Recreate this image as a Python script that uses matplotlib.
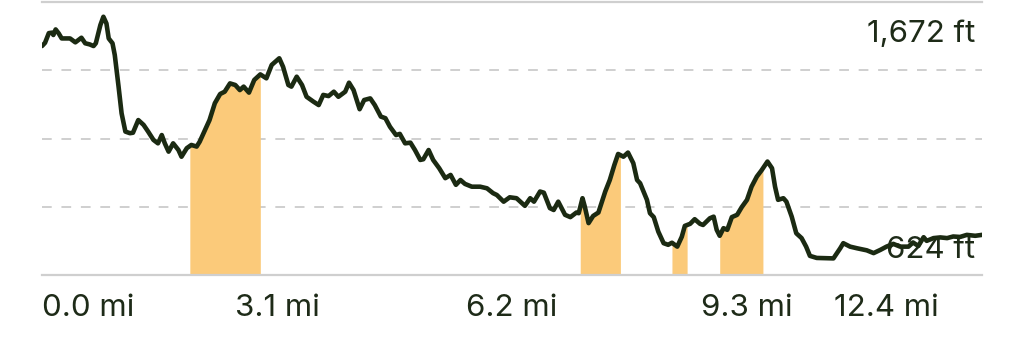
import matplotlib
matplotlib.use("Agg")
import matplotlib.pyplot as plt
import numpy as np

# elevation profile (miles, feet)
dist = [0.00, 0.04, 0.09, 0.13, 0.15, 0.18, 0.22, 0.26, 0.33, 0.37, 0.44, 0.48, 0.52, 0.57,
        0.63, 0.68, 0.71, 0.77, 0.81, 0.85, 0.88, 0.93, 0.96, 1.01, 1.05, 1.10, 1.16, 1.20,
        1.27, 1.34, 1.40, 1.47, 1.53, 1.58, 1.62, 1.67, 1.73, 1.80, 1.84, 1.91, 1.97, 2.04,
        2.08, 2.15, 2.21, 2.28, 2.35, 2.41, 2.48, 2.55, 2.61, 2.66, 2.73, 2.80, 2.88, 2.96,
        3.03, 3.13, 3.18, 3.25, 3.29, 3.36, 3.43, 3.49, 3.58, 3.65, 3.71, 3.78, 3.85, 3.91,
        4.00, 4.05, 4.11, 4.19, 4.25, 4.33, 4.39, 4.47, 4.53, 4.59, 4.67, 4.72, 4.79, 4.86,
        4.92, 4.99, 5.03, 5.10, 5.16, 5.24, 5.32, 5.39, 5.46, 5.52, 5.58, 5.67, 5.78, 5.87,
        5.95, 6.00, 6.09, 6.17, 6.26, 6.37, 6.44, 6.49, 6.57, 6.62, 6.70, 6.75, 6.81, 6.90,
        6.97, 7.05, 7.08, 7.13, 7.16, 7.21, 7.27, 7.34, 7.43, 7.49, 7.55, 7.60, 7.67, 7.73,
        7.80, 7.85, 7.89, 7.98, 8.02, 8.07, 8.13, 8.20, 8.26, 8.31, 8.38, 8.44, 8.48, 8.55,
        8.61, 8.68, 8.72, 8.81, 8.86, 8.90, 8.94, 8.99, 9.04, 9.10, 9.17, 9.23, 9.30, 9.36,
        9.43, 9.49, 9.57, 9.63, 9.67, 9.71, 9.78, 9.82, 9.89, 9.95, 10.02, 10.08, 10.13,
        10.22, 10.35, 10.44, 10.53, 10.57, 10.66, 10.75, 10.88, 10.97, 11.06, 11.14, 11.23,
        11.32, 11.43, 11.49, 11.56, 11.63, 11.67, 11.76, 11.85, 11.94, 12.02, 12.11, 12.20,
        12.31, 12.40]
elev = [1545, 1559, 1601, 1603, 1593, 1617, 1600, 1578, 1578, 1578, 1561, 1571, 1581, 1557,
        1552, 1545, 1557, 1636, 1672, 1643, 1578, 1557, 1506, 1369, 1253, 1174, 1167, 1169,
        1224, 1203, 1174, 1138, 1123, 1159, 1123, 1087, 1123, 1094, 1065, 1102, 1116, 1109,
        1130, 1181, 1224, 1297, 1337, 1347, 1383, 1376, 1354, 1369, 1343, 1398, 1422, 1405,
        1463, 1492, 1455, 1376, 1369, 1412, 1376, 1325, 1304, 1289, 1333, 1328, 1347, 1325,
        1347, 1386, 1354, 1271, 1311, 1318, 1289, 1239, 1232, 1195, 1159, 1164, 1123, 1126,
        1094, 1051, 1054, 1094, 1051, 1015, 972, 986, 943, 964, 947, 935, 935, 928,
        907, 899, 870, 889, 885, 852, 885, 870, 914, 909, 842, 834, 870, 813,
        803, 823, 820, 885, 849, 777, 808, 823, 914, 964, 1029, 1077, 1065, 1083,
        1037, 964, 950, 878, 820, 803, 740, 690, 683, 692, 675, 718, 765, 774,
        794, 774, 769, 798, 805, 748, 722, 755, 748, 803, 813, 846, 878, 935,
        979, 1005, 1044, 1015, 935, 878, 885, 870, 805, 733, 712, 675, 635,
        626, 625, 624, 668, 690, 675, 668, 659, 647, 661, 675, 687,
        675, 675, 693, 678, 716, 700, 712, 715, 712, 719, 717, 726,
        722, 726]

# steep climb sections (miles)
climb_start = [1.95, 7.10, 8.31, 8.94]
climb_end = [2.88, 7.63, 8.51, 9.51]

tick_labels = ["0.0 mi", "3.1 mi", "6.2 mi", "9.3 mi", "12.4 mi"]
tick_pos = [0.0, 3.1, 6.2, 9.3, 11.14]

dist = np.array(dist)
elev = np.array(elev)

line_col = "#1b2a12"
fill_col = "#fbca7a"
grid_col = "#cfcfcf"
txt_col = "#1e2b18"
plt.rcParams["font.family"] = ["Inter", "DejaVu Sans"]

fig = plt.figure(figsize=(10.24, 3.47), dpi=100)
ax = fig.add_axes([42/1024, 1-275/347, 940/1024, 273/347])

ymin, ymax = 552, 1736
ax.set_xlim(0, 12.40)
ax.set_ylim(ymin, ymax)

step = (ymax - ymin) / 4
for k in range(1, 4):
    ax.axhline(ymin + k*step, color=grid_col, lw=1.4, dashes=(5, 5), zorder=1)

for a, b in zip(climb_start, climb_end):
    inside = dist[(dist > a) & (dist < b)]
    xs = np.concatenate([[a], inside, [b]])
    ys = np.interp(xs, dist, elev)
    ax.fill_between(xs, ymin, ys, color=fill_col, lw=0, zorder=2)

ax.text(0.9926, 0.853, f"{elev.max():,} ft", transform=ax.transAxes, ha="right",
        va="baseline", fontsize=22.5, color=txt_col, zorder=3)
ax.text(0.9926, 0.062, f"{elev.min():,} ft", transform=ax.transAxes, ha="right",
        va="baseline", fontsize=22.5, color=txt_col, zorder=3)

ax.plot(dist, elev, color=line_col, lw=3.3, solid_joinstyle="round",
        solid_capstyle="round", zorder=4)

for i, (p, lab) in enumerate(zip(tick_pos, tick_labels)):
    ax.text(p, -0.15, lab, transform=ax.get_xaxis_transform(),
            ha="left" if i == 0 else "center", va="baseline",
            fontsize=22.5, color=txt_col)

for s in ["left", "right"]:
    ax.spines[s].set_visible(False)
for s in ["top", "bottom"]:
    ax.spines[s].set_color(grid_col)
    ax.spines[s].set_linewidth(1.6)
ax.set_xticks([])
ax.set_yticks([])
ax.patch.set_alpha(0)

fig.savefig("out.png", dpi=100)
